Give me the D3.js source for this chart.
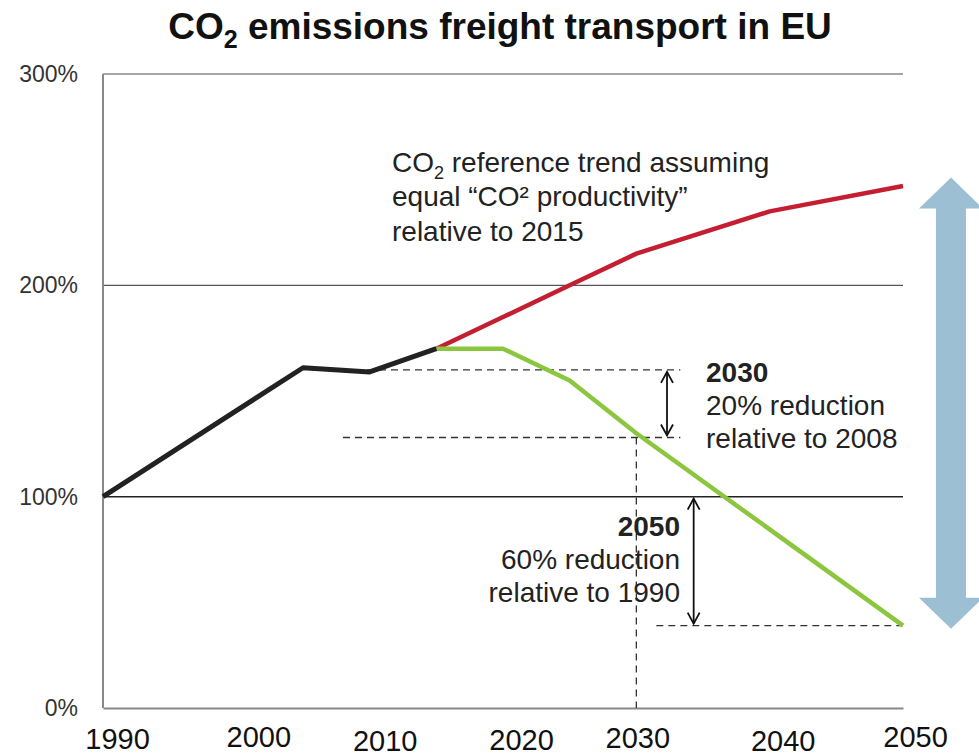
<!DOCTYPE html>
<html>
<head>
<meta charset="utf-8">
<script src="https://cdn.jsdelivr.net/npm/d3@7"></script>
<style>
  body { margin: 0; background: #fff; }
  text { font-family: "Liberation Sans", Arial, sans-serif; }
</style>
</head>
<body>
<svg id="svg" width="979" height="756"></svg>
<script>
// history 1990-2015, index 1990 = 100%
var histYears = [1990, 2005, 2010, 2015];
var histValues = [100, 161, 159, 170];

// reference trend (same CO2 productivity as 2015)
var refYears = [2015, 2020, 2025, 2030, 2040, 2050];
var refValues = [170, 185, 200, 215, 235, 247];

// target path
var targetYears = [2015, 2020, 2025, 2030, 2050];
var targetValues = [170, 170, 155, 130, 39];

var yTicks = [0, 100, 200, 300];
var xTickLabels = ["1990", "2000", "2010", "2020", "2030", "2040", "2050"];
// the x labels in the picture are placed by hand, a bit off the ticks
var xLabelNudge = [[14, 1], [22, -1], [15, 3], [18, 2], [1, 0], [13, 3], [12, -1]];

var level2008 = 160, level2030 = 128, level2050 = 39;

var svg = d3.select("#svg");
var x = d3.scaleLinear().domain([1990, 2050]).range([103, 903]);
var y = d3.scaleLinear().domain([0, 300]).range([708, 74]);

// title
var title = svg.append("text")
    .attr("x", 500).attr("y", 39)
    .attr("text-anchor", "middle")
    .attr("font-family", "Liberation Sans Narrow")
    .attr("font-weight", "bold")
    .attr("font-size", "37px")
    .attr("fill", "#111");
title.append("tspan").text("CO");
title.append("tspan").attr("font-size", "25px").attr("dy", 9).text("2");
title.append("tspan").attr("dy", -9).text(" emissions freight transport in EU");

// grid lines
svg.selectAll("line.grid")
    .data([100, 200, 300])
    .enter().append("line")
    .attr("class", "grid")
    .attr("x1", x(1990)).attr("x2", x(2050))
    .attr("y1", function(d) { return y(d); })
    .attr("y2", function(d) { return y(d); })
    .attr("stroke", function(d) { return d == 100 ? "#222" : (d == 200 ? "#555" : "#888"); })
    .attr("stroke-width", function(d) { return d == 100 ? 1.5 : 1.3; });

// y axis (the 0% label is cut at its bottom in the original)
svg.append("clipPath").attr("id", "yclip")
    .append("rect").attr("x", -103).attr("y", 0).attr("width", 100).attr("height", 716);
var yAxis = svg.append("g")
    .attr("transform", "translate(" + x(1990) + ",0)")
    .attr("clip-path", "url(#yclip)")
    .call(d3.axisLeft(y).tickValues(yTicks).tickSize(0).tickPadding(25).tickFormat(function(d) { return d + "%"; }));
yAxis.select(".domain").remove();
yAxis.selectAll("text")
    .attr("font-family", "Liberation Sans")
    .attr("font-size", "23px")
    .attr("fill", "#333");

svg.append("line")
    .attr("x1", x(1990)).attr("x2", x(1990))
    .attr("y1", y(300)).attr("y2", y(0))
    .attr("stroke", "#888").attr("stroke-width", 2);

// x axis
var xAxis = svg.append("g")
    .attr("transform", "translate(0," + y(0) + ")")
    .call(d3.axisBottom(x).tickValues(xTickLabels.map(Number)).tickSize(0).tickPadding(19).tickFormat(d3.format("d")));
xAxis.select(".domain").attr("stroke", "#888").attr("stroke-width", 2);
xAxis.selectAll("text")
    .attr("font-family", "Liberation Sans")
    .attr("font-size", "29px")
    .attr("fill", "#111")
    .attr("transform", function(d, i) { return "translate(" + xLabelNudge[i][0] + "," + xLabelNudge[i][1] + ")"; });

// dashed helper lines
var dashed = [
  [[2008, level2008], [2033.3, level2008]],
  [[2008, level2030], [2033.3, level2030]],
  [[2030, level2030], [2030, 0]],
  [[2031.5, level2050], [2050, level2050]]
];
svg.selectAll("line.dash")
    .data(dashed)
    .enter().append("line")
    .attr("class", "dash")
    .attr("x1", function(d) { return x(d[0][0]); })
    .attr("y1", function(d) { return y(d[0][1]); })
    .attr("x2", function(d) { return x(d[1][0]); })
    .attr("y2", function(d) { return y(d[1][1]); })
    .attr("stroke", "#333").attr("stroke-width", 1.3)
    .attr("stroke-dasharray", "7,5");

// lines
var line = d3.line()
    .x(function(d) { return x(d[0]); })
    .y(function(d) { return y(d[1]); });

function draw(xs, ys, color, w) {
  svg.append("path")
      .datum(d3.zip(xs, ys))
      .attr("d", line)
      .attr("fill", "none")
      .attr("stroke", color)
      .attr("stroke-width", w)
      .attr("stroke-linejoin", "round");
}
draw(refYears, refValues, "#c41e32", 4.5);
draw(targetYears, targetValues, "#8cc63f", 4.5);
draw(histYears, histValues, "#222", 5);

// small double arrows
function dblArrow(yr, v1, v2) {
  var ax = x(yr), a = y(v1), b = y(v2);
  var g = svg.append("g").attr("fill", "none").attr("stroke", "#111").attr("stroke-width", 1.8);
  g.append("line").attr("x1", ax).attr("x2", ax).attr("y1", a + 2).attr("y2", b - 2);
  g.append("path").attr("d", "M" + (ax - 6) + "," + (a + 13) + "L" + ax + "," + (a + 2) + "L" + (ax + 6) + "," + (a + 13));
  g.append("path").attr("d", "M" + (ax - 6) + "," + (b - 13) + "L" + ax + "," + (b - 2) + "L" + (ax + 6) + "," + (b - 13));
}
dblArrow(2032.3, level2008, level2030);
dblArrow(2034.3, 100, level2050);

// big blue arrow on the right
var bx = x(2053.6), bTop = y(251), bBot = y(37.5);
svg.append("path")
    .attr("d", [
      "M", bx, bTop,
      "L", bx + 32, bTop + 31,
      "L", bx + 15, bTop + 31,
      "L", bx + 15, bBot - 31,
      "L", bx + 32, bBot - 31,
      "L", bx, bBot,
      "L", bx - 32, bBot - 31,
      "L", bx - 15, bBot - 31,
      "L", bx - 15, bTop + 31,
      "L", bx - 32, bTop + 31, "Z"].join(" "))
    .attr("fill", "#9dbfd4");

// annotations
function textBlock(px, py, anchor, lines) {
  var t = svg.append("text")
      .attr("x", px).attr("y", py)
      .attr("text-anchor", anchor)
      .attr("font-size", "28px")
      .attr("fill", "#222");
  lines.forEach(function(l, i) {
    t.append("tspan").attr("x", px).attr("dy", i == 0 ? 0 : 33)
        .attr("font-weight", l.bold ? "bold" : null)
        .text(l.text);
  });
  return t;
}

var note = svg.append("text")
    .attr("x", 392).attr("y", 172)
    .attr("font-size", "28px")
    .attr("fill", "#222");
note.append("tspan").text("CO");
note.append("tspan").attr("font-size", "18px").attr("dy", 7).text("2");
note.append("tspan").attr("dy", -7).text(" reference trend assuming");
note.append("tspan").attr("x", 392).attr("dy", 34).text("equal \u201cCO\u00b2 productivity\u201d");
note.append("tspan").attr("x", 392).attr("dy", 35).text("relative to 2015");

textBlock(706, 382, "start", [
  {text: "2030", bold: true},
  {text: "20% reduction"},
  {text: "relative to 2008"}
]);
textBlock(680, 536, "end", [
  {text: "2050", bold: true},
  {text: "60% reduction"},
  {text: "relative to 1990"}
]);
</script>
</body>
</html>
